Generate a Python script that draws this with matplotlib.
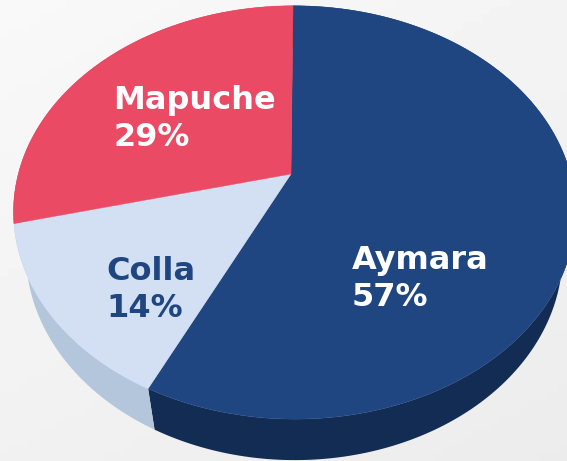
#!/usr/bin/env python3
"""Perspective pie chart of population shares."""

import matplotlib
matplotlib.use('Agg')
import matplotlib.pyplot as plt
from matplotlib.patches import Polygon
import numpy as np

names = ['Aymara', 'Colla', 'Mapuche']
shares = [57, 14, 29]

top_colors = ['#1f4680', '#d3dff2', '#eb4a64']
side_colors = ['#132c54', '#b4c6dc', '#c23a50']
text_colors = ['white', '#1f4680', 'white']
label_pos = [(352, 279), (106, 290), (113, 119)]

# projection of the pie disc to pixels
CX, CY = 291, 174
K = 0.186
M = -0.012
AY = 199.5
BX = 276
DEPTH = 41
SHRINK = 0.955
START = np.deg2rad(0.5)


def project(theta):
    u, v = np.sin(theta), np.cos(theta)
    d = 1 + K * v + M * u
    return CX + BX * u / d, CY - AY * v / d


fig = plt.figure(figsize=(5.67, 4.61), dpi=100)
ax = fig.add_axes([0, 0, 1, 1])
ax.set_xlim(0, 567)
ax.set_ylim(461, 0)
ax.axis('off')

# soft grey background, lighter at the top left
yy, xx = np.mgrid[0:1:60j, 0:1:60j]
ax.imshow(0.975 - 0.05 * (0.6 * yy + 0.4 * xx), cmap='gray', vmin=0, vmax=1,
          extent=(0, 567, 461, 0), aspect='auto', zorder=0)

edges = START + np.cumsum([0] + shares) / sum(shares) * 2 * np.pi
for i in range(len(shares)):
    t = np.linspace(edges[i], edges[i + 1], 200)
    x, y = project(t)
    xb = CX + (x - CX) * SHRINK
    yb = y + DEPTH
    side = np.column_stack([np.r_[x, xb[::-1]], np.r_[y, yb[::-1]]])
    ax.add_patch(Polygon(side, closed=True, facecolor=side_colors[i],
                         edgecolor='none', zorder=2))

for i in range(len(shares)):
    t = np.linspace(edges[i], edges[i + 1], 200)
    x, y = project(t)
    top = np.column_stack([np.r_[CX, x], np.r_[CY, y]])
    ax.add_patch(Polygon(top, closed=True, facecolor=top_colors[i],
                         edgecolor=top_colors[i], linewidth=0.3, zorder=3))

for name, val, pos, col in zip(names, shares, label_pos, text_colors):
    ax.text(pos[0], pos[1], f'{name}\n{val}%', color=col, ha='left', va='center',
            fontsize=23, fontweight='bold', family='DejaVu Sans',
            linespacing=1.27, zorder=5)

fig.savefig('out.png', dpi=100)
plt.close()
